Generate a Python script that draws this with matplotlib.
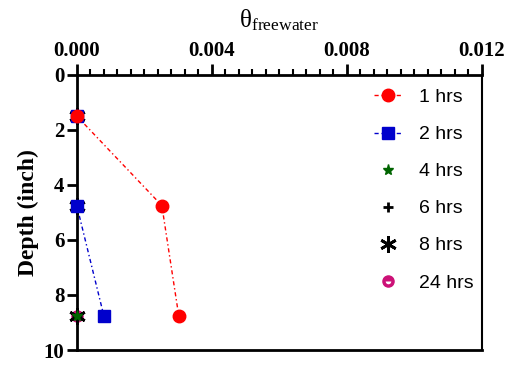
import numpy as np
import matplotlib
matplotlib.use("Agg")
import matplotlib.pyplot as plt
from matplotlib.ticker import MultipleLocator

plt.rcParams['mathtext.fontset'] = 'custom'
plt.rcParams['mathtext.rm'] = 'Liberation Serif'
plt.rcParams['mathtext.it'] = 'Liberation Serif:italic'

# data
depth = [1.5, 4.75, 8.75]
theta_1h = [0.0, 0.00252, 0.00302]
theta_2h = [0.0, 0.0, 0.0008]
theta_4h = [0.0, 0.0, 0.0]
theta_6h = [0.0, 0.0, 0.0]
theta_8h = [0.0, 0.0, 0.0]
theta_24h = [0.0, 0.0, 0.0]
labels = ["1 hrs", "2 hrs", "4 hrs", "6 hrs", "8 hrs", "24 hrs"]

fig = plt.figure(figsize=(5.12, 3.65), dpi=100)
ax = fig.add_axes([0.150, 0.041, 0.791, 0.754])

dashdot = (0, (3, 2, 1, 2))
magenta = '#cc1177'
red = '#ff0000'
blue = '#0000cc'

# connecting lines below the spines, markers above
l2, = ax.plot(theta_2h, depth, linestyle=dashdot, lw=1, color=blue, zorder=2)
l1, = ax.plot(theta_1h, depth, linestyle=dashdot, lw=1, color=red, zorder=2)

h24, = ax.plot(theta_24h, depth, linestyle='none', marker='o', ms=8,
               color=magenta, zorder=3, clip_on=False)
h24b, = ax.plot(theta_24h, depth, linestyle='none', marker='o', ms=4, fillstyle='bottom',
                markerfacecolor='white', markerfacecoloralt='none', mew=0,
                zorder=3, clip_on=False)
h8, = ax.plot(theta_8h, depth, linestyle='none', marker=(6, 2, 0), ms=12,
              color='black', mew=2, zorder=3, clip_on=False)
h6, = ax.plot(theta_6h, depth, linestyle='none', marker='+', ms=7,
              color='black', mew=2, zorder=3, clip_on=False)
h4, = ax.plot(theta_4h, depth, linestyle='none', marker='*', ms=8,
              color='#006400', zorder=3, clip_on=False)
h2, = ax.plot(theta_2h, depth, linestyle='none', marker='s', ms=8,
              color=blue, zorder=3, clip_on=False)
h1, = ax.plot(theta_1h, depth, linestyle='none', marker='o', ms=9,
              color=red, zorder=3, clip_on=False)

ax.set_xlim(0, 0.012)
ax.set_ylim(10, 0)
ax.xaxis.tick_top()
ax.xaxis.set_label_position('top')
ax.xaxis.set_major_locator(MultipleLocator(0.004))
ax.xaxis.set_minor_locator(MultipleLocator(0.0004))
ax.yaxis.set_major_locator(MultipleLocator(2))
ax.xaxis.set_major_formatter(matplotlib.ticker.FormatStrFormatter('%.3f'))

ax.tick_params(axis='x', which='major', direction='out', length=8, width=2, pad=2)
ax.tick_params(axis='x', which='minor', direction='out', length=4, width=1.5)
ax.tick_params(axis='y', which='major', direction='out', length=7, width=2, pad=2)
for lab in ax.get_xticklabels() + ax.get_yticklabels():
    lab.set_fontfamily('Liberation Serif')
    lab.set_fontweight('bold')
    lab.set_fontsize(15)

for side in ['top', 'left', 'bottom']:
    ax.spines[side].set_linewidth(2)
ax.spines['right'].set_linewidth(1.5)

ax.set_xlabel('θ$_{\\mathrm{freewater}}$', fontfamily='Liberation Serif', fontsize=18, labelpad=10)
ax.set_ylabel('Depth (inch)', fontfamily='Liberation Serif', fontweight='bold', fontsize=17, labelpad=3)

ax.legend(handles=[(l1, h1), (l2, h2), h4, h6, h8, (h24, h24b)], labels=labels,
          loc='upper left', bbox_to_anchor=(0.715, 0.978),
          frameon=False, prop={'family': 'Liberation Sans', 'size': 14},
          handlelength=1.45, handletextpad=0.85, labelspacing=1.0, borderaxespad=0)

fig.savefig('out.png', dpi=100)
